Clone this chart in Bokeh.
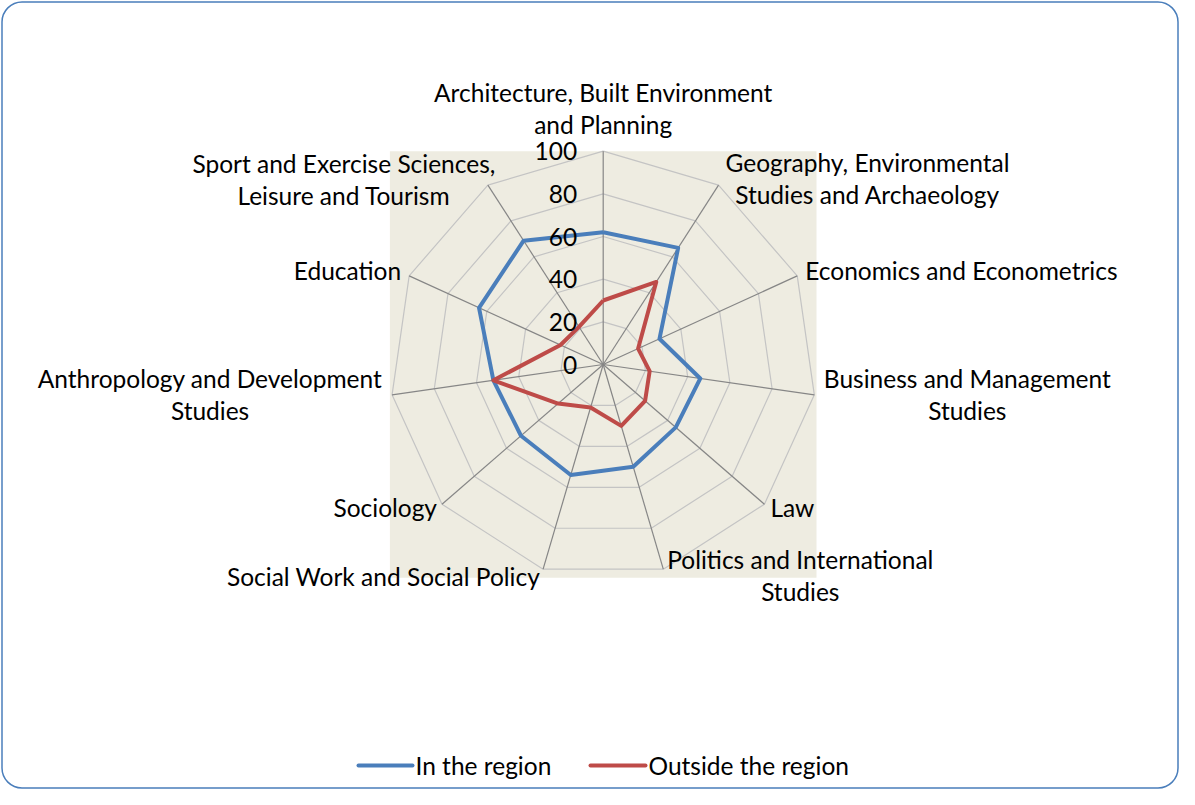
import numpy as np
from bokeh.plotting import figure
from bokeh.models import Range1d
from bokeh.core.properties import value
from bokeh.embed import file_html
from bokeh.resources import INLINE

categories = [
    "Architecture, Built Environment\nand Planning",
    "Geography, Environmental\nStudies and Archaeology",
    "Economics and Econometrics",
    "Business and Management\nStudies",
    "Law",
    "Politics and International\nStudies",
    "Social Work and Social Policy",
    "Sociology",
    "Anthropology and Development\nStudies",
    "Education",
    "Sport and Exercise Sciences,\nLeisure and Tourism",
]
in_region = [62, 65, 29, 46, 45, 50, 54, 51, 52, 64, 69]
outside_region = [30, 46, 18, 22, 26, 30, 21, 28, 52, 22, 21]
series_names = ["In the region", "Outside the region"]
tick_values = [0, 20, 40, 60, 80, 100]

# styling / layout (pixel-like data space, y downward)
FONT = value("Lato")
FS = "24.5px"
LH = 1.105
CX, CY, R = 602.7, 364.0, 213.3
BLUE, RED = "#4A7EBB", "#BE4B48"

# label placement: (align, dx, dy) relative to the outer vertex
label_style = [
    ("center", 0, -43), ("center", 149, -7), ("left", 8, -5), ("center", 153, 0),
    ("left", 6, 3), ("center", 137, 6), ("right", -3, 7), ("right", -5, 3),
    ("center", -182, 0), ("right", -8, -5), ("center", -144, -6),
]

n = len(categories)
ang = np.arange(n) * 2 * np.pi / n


def to_xy(vals):
    v = np.asarray(vals, dtype=float) * R / 100.0
    return CX + v * np.sin(ang), CY - v * np.cos(ang)


p = figure(width=1179, height=789, output_backend="svg", toolbar_location=None,
           x_range=Range1d(0, 1179), y_range=Range1d(789, 0),
           min_border=0, x_axis_type=None, y_axis_type=None)
p.grid.visible = False
p.outline_line_color = None
p.background_fill_color = "white"

# outer rounded border
p.quad(left=[1.5], right=[1177.5], top=[1.5], bottom=[787.5], fill_color=None,
       line_color="#4A7EBB", line_width=1.5, border_radius=20)

# plot area
p.quad(left=[CX - R], right=[CX + R], top=[CY - R], bottom=[CY + R],
       fill_color="#EEECE1", line_color=None)

# rings
for t in tick_values[1:]:
    xs, ys = to_xy([t] * n)
    p.line(list(xs) + [xs[0]], list(ys) + [ys[0]], line_color="#C4C4C4", line_width=1.2)

# spokes
xo, yo = to_xy([100] * n)
p.segment(x0=[CX] * n, y0=[CY] * n, x1=xo, y1=yo, line_color="#868686", line_width=1.2)

# series
for vals, col in [(in_region, BLUE), (outside_region, RED)]:
    xs, ys = to_xy(vals)
    p.line(list(xs) + [xs[0]], list(ys) + [ys[0]], line_color=col, line_width=4,
           line_join="round")

# tick labels
tx, ty = np.full(len(tick_values), CX - 26.0), CY - np.array(tick_values) * R / 100.0
p.text(x=tx, y=ty, text=[str(t) for t in tick_values], text_align="right",
       text_baseline="middle", text_font=FONT, text_font_size=FS, text_color="black")

# category labels
for i, (lab, (al, dx, dy)) in enumerate(zip(categories, label_style)):
    p.text(x=[xo[i] + dx], y=[yo[i] + dy], text=[lab], text_align=al,
           text_baseline="middle", text_font=FONT, text_font_size=FS,
           text_color="black", text_line_height=LH)

# legend
LY = 765
p.segment(x0=[358, 590], y0=[LY, LY], x1=[412, 645], y1=[LY, LY],
          line_color=[BLUE, RED], line_width=4, line_cap="round")
p.text(x=[415, 648], y=[LY, LY], text=series_names, text_align="left",
       text_baseline="middle", text_font=FONT, text_font_size=FS, text_color="black")

open("out.html", "w").write(file_html(p, INLINE))
